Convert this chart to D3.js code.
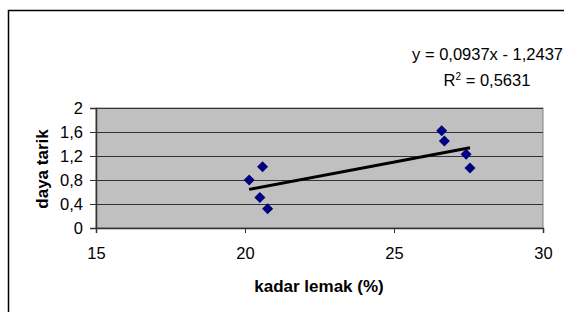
<!DOCTYPE html>
<html><head><meta charset="utf-8">
<script src="https://cdn.jsdelivr.net/npm/d3@7"></script>
<style>body{margin:0;background:#fff}svg{display:block}text{font-family:"Liberation Sans",Arial,sans-serif}</style>
</head><body><svg id="c" width="564" height="312"></svg>
<script>
const kadarLemak = [20.14, 20.59, 20.50, 20.76, 26.60, 26.69, 27.42, 27.55];
const dayaTarik  = [0.80, 1.02, 0.51, 0.32, 1.62, 1.45, 1.23, 1.00];
const xTicks = [15, 20, 25, 30];
const yTicks = [0, 0.4, 0.8, 1.2, 1.6, 2];
const trendCoef = [0.0937, -1.2437];
const eqLabel = "y = 0,0937x - 1,2437";
const r2Value = "0,5631";

const svg = d3.select("#c");
const L = 96, R = 543, T = 108, B = 228;
const x = d3.scaleLinear().domain([15, 30]).range([L, R]);
const y = d3.scaleLinear().domain([0, 2]).range([B, T]);
const fmt = v => String(v).replace(".", ",");
const FS = 16.5;

// outer frame
svg.append("path").attr("d", "M8.5,320 L8.5,10.5 L570,10.5").attr("fill", "none").attr("stroke", "#000").attr("stroke-width", 1.5);

// plot area
svg.append("rect").attr("x", L).attr("y", T).attr("width", R - L).attr("height", B - T).attr("fill", "#c0c0c0").attr("stroke", "#808080").attr("stroke-width", 1);

// gridlines
svg.append("g").selectAll("line").data(yTicks.filter(d => d > 0)).join("line")
  .attr("x1", L).attr("x2", R).attr("y1", d => Math.round(y(d)) + 0.5).attr("y2", d => Math.round(y(d)) + 0.5)
  .attr("stroke", "#333").attr("stroke-width", 1);

// axes
const xa = svg.append("g").attr("transform", `translate(0,${B})`)
  .call(d3.axisBottom(x).tickValues(xTicks).tickSize(5).tickPadding(14).tickFormat(fmt));
const ya = svg.append("g").attr("transform", `translate(${L},0)`)
  .call(d3.axisLeft(y).tickValues(yTicks).tickSize(6).tickPadding(7).tickFormat(fmt));
[xa, ya].forEach(g => {
  g.select(".domain").attr("stroke", "#333").attr("stroke-width", 1.5);
  g.selectAll(".tick line").attr("stroke", "#333");
  g.selectAll("text").attr("font-size", FS).attr("fill", "#000").attr("font-family", '"Liberation Sans",Arial,sans-serif');
});

// trend line
const xmin = d3.min(kadarLemak), xmax = d3.max(kadarLemak);
const f = v => trendCoef[0] * v + trendCoef[1];
svg.append("line").attr("x1", x(xmin)).attr("y1", y(f(xmin))).attr("x2", x(xmax)).attr("y2", y(f(xmax)))
  .attr("stroke", "#000").attr("stroke-width", 3);

// points
svg.append("g").selectAll("path").data(kadarLemak.map((v, i) => [v, dayaTarik[i]])).join("path")
  .attr("transform", d => `translate(${x(d[0])},${y(d[1])})`)
  .attr("d", "M0,-5.5 L5.5,0 L0,5.5 L-5.5,0 Z").attr("fill", "#000080");

// axis titles
svg.append("text").attr("x", 319).attr("y", 292).attr("text-anchor", "middle")
  .attr("font-size", 17).attr("font-weight", "bold").text("kadar lemak (%)");
svg.append("text").attr("transform", "translate(48,169) rotate(-90)").attr("text-anchor", "middle")
  .attr("font-size", 17).attr("font-weight", "bold").text("daya tarik");

// equation
svg.append("text").attr("x", 563).attr("y", 60).attr("text-anchor", "end").attr("font-size", FS).text(eqLabel);
const r2 = svg.append("text").attr("x", 487).attr("y", 86).attr("text-anchor", "middle").attr("font-size", FS);
r2.append("tspan").text("R");
r2.append("tspan").attr("font-size", 10).attr("dy", -6).text("2");
r2.append("tspan").attr("dy", 6).text(" = " + r2Value);
</script></body></html>
